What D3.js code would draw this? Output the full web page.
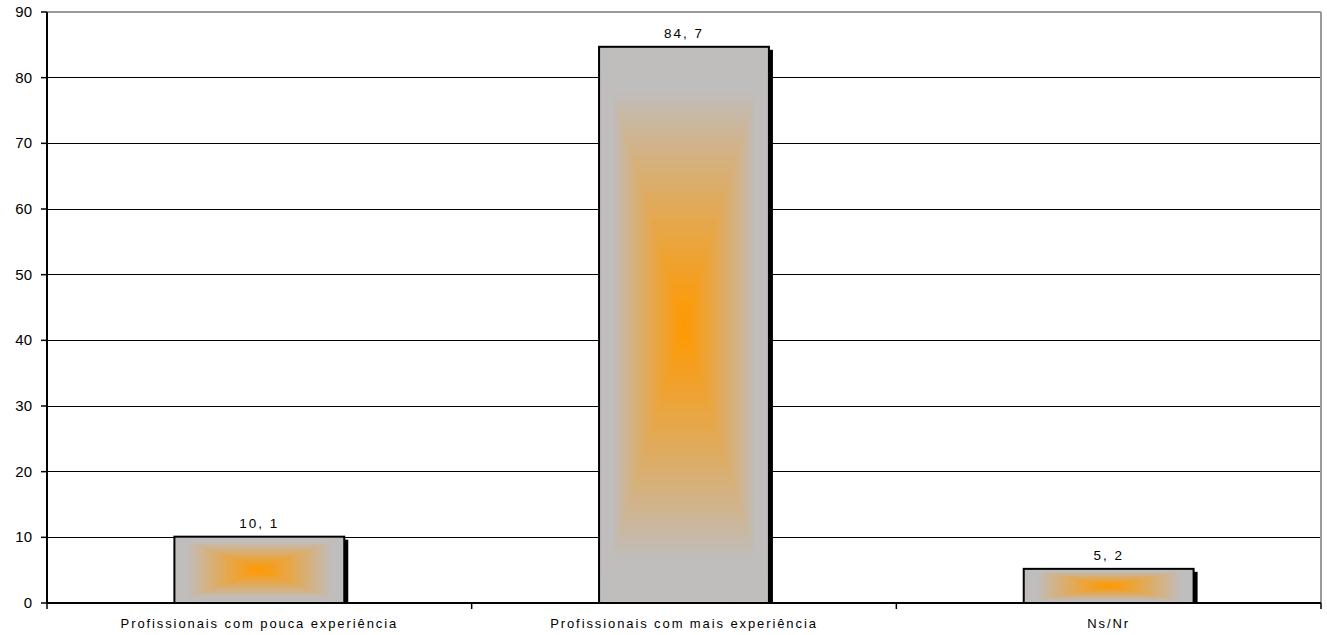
<!DOCTYPE html>
<html><head><meta charset="utf-8">
<script src="https://cdn.jsdelivr.net/npm/d3@7"></script>
<style>body{margin:0;background:#fff}svg{display:block}text{font-family:"Liberation Sans",Arial,sans-serif}</style>
</head><body>
<svg id="c" width="1327" height="635"></svg>
<script>
const categories = ["Profissionais com pouca experiência", "Profissionais com mais experiência", "Ns/Nr"];
const values = [10.1, 84.7, 5.2];
const valueLabels = ["10, 1", "84, 7", "5, 2"];
const yTicks = [0, 10, 20, 30, 40, 50, 60, 70, 80, 90];

const svg = d3.select("#c");
const m = {l: 47, r: 6, t: 12, b: 32};
const W = 1327, H = 635;
const x = d3.scaleBand().domain(categories).range([m.l, W - m.r]).padding(0);
const y = d3.scaleLinear().domain([0, 90]).range([H - m.b, m.t]);

// grid
svg.append("g").selectAll("line").data(yTicks.filter(d => d > 0 && d < 90)).join("line")
  .attr("x1", m.l).attr("x2", W - m.r).attr("y1", d => y(d)).attr("y2", d => y(d))
  .attr("stroke", "#000").attr("stroke-width", 1).attr("shape-rendering", "crispEdges");
// top & right border
svg.append("line").attr("x1", m.l).attr("x2", W - m.r).attr("y1", y(90)).attr("y2", y(90))
  .attr("stroke", "#999").attr("stroke-width", 2);
svg.append("line").attr("x1", W - m.r).attr("x2", W - m.r).attr("y1", y(90)).attr("y2", y(0))
  .attr("stroke", "#999").attr("stroke-width", 2);

// bars
const bw = x.bandwidth() * 0.4;
const gray = "#c0bdbd", orange = "#ff9900";
const N = 30;
values.forEach((v, i) => {
  const cx = x(categories[i]) + x.bandwidth() / 2;
  const x0 = cx - bw / 2, y0 = y(v), h = y(0) - y(v);
  const g = svg.append("g");
  // shadow
  g.append("rect").attr("x", x0 + 4).attr("y", y0 + 3).attr("width", bw).attr("height", h - 3).attr("fill", "#000");
  // box gradient via nested rects
  const steps = d3.range(N + 1).map(k => k / N);
  g.selectAll("rect.s").data(steps).join("rect").attr("class", "s")
    .attr("x", t => x0 + t * bw / 2 * 0.98)
    .attr("y", t => y0 + t * h / 2 * 0.98)
    .attr("width", t => Math.max(0, bw * (1 - t * 0.98)))
    .attr("height", t => Math.max(0, h * (1 - t * 0.98)))
    .attr("fill", t => d3.interpolateRgb(gray, orange)(Math.pow(Math.max(0, (t - 0.15) / 0.85), 0.9)));
  g.append("rect").attr("x", x0).attr("y", y0).attr("width", bw).attr("height", h)
    .attr("fill", "none").attr("stroke", "#000").attr("stroke-width", 2);
  svg.append("text").attr("x", cx).attr("y", y0 - 9).attr("text-anchor", "middle")
    .attr("font-size", 13.5).attr("letter-spacing", 2).attr("fill", "#000").text(valueLabels[i]);
});

// axes
svg.append("line").attr("x1", m.l).attr("x2", m.l).attr("y1", y(90)).attr("y2", y(0)).attr("stroke", "#000").attr("stroke-width", 2);
svg.append("line").attr("x1", m.l).attr("x2", W - m.r).attr("y1", y(0)).attr("y2", y(0)).attr("stroke", "#000").attr("stroke-width", 2);
svg.append("g").selectAll("line").data(yTicks).join("line")
  .attr("x1", m.l - 6).attr("x2", m.l).attr("y1", d => y(d)).attr("y2", d => y(d)).attr("stroke", "#000").attr("stroke-width", 1.5);
svg.append("g").selectAll("text").data(yTicks).join("text")
  .attr("x", 32).attr("y", d => y(d) + 5).attr("text-anchor", "end").attr("font-size", 15).text(d => d);
const bounds = categories.map(c => x(c)).concat([W - m.r]);
svg.append("g").selectAll("line").data(bounds).join("line")
  .attr("x1", d => d).attr("x2", d => d).attr("y1", y(0)).attr("y2", y(0) + 6).attr("stroke", "#000").attr("stroke-width", 1.5);
svg.append("g").selectAll("text").data(categories).join("text")
  .attr("x", d => x(d) + x.bandwidth() / 2).attr("y", 628).attr("text-anchor", "middle")
  .attr("font-size", 13).attr("letter-spacing", 1.9).text(d => d);
</script>
</body></html>
